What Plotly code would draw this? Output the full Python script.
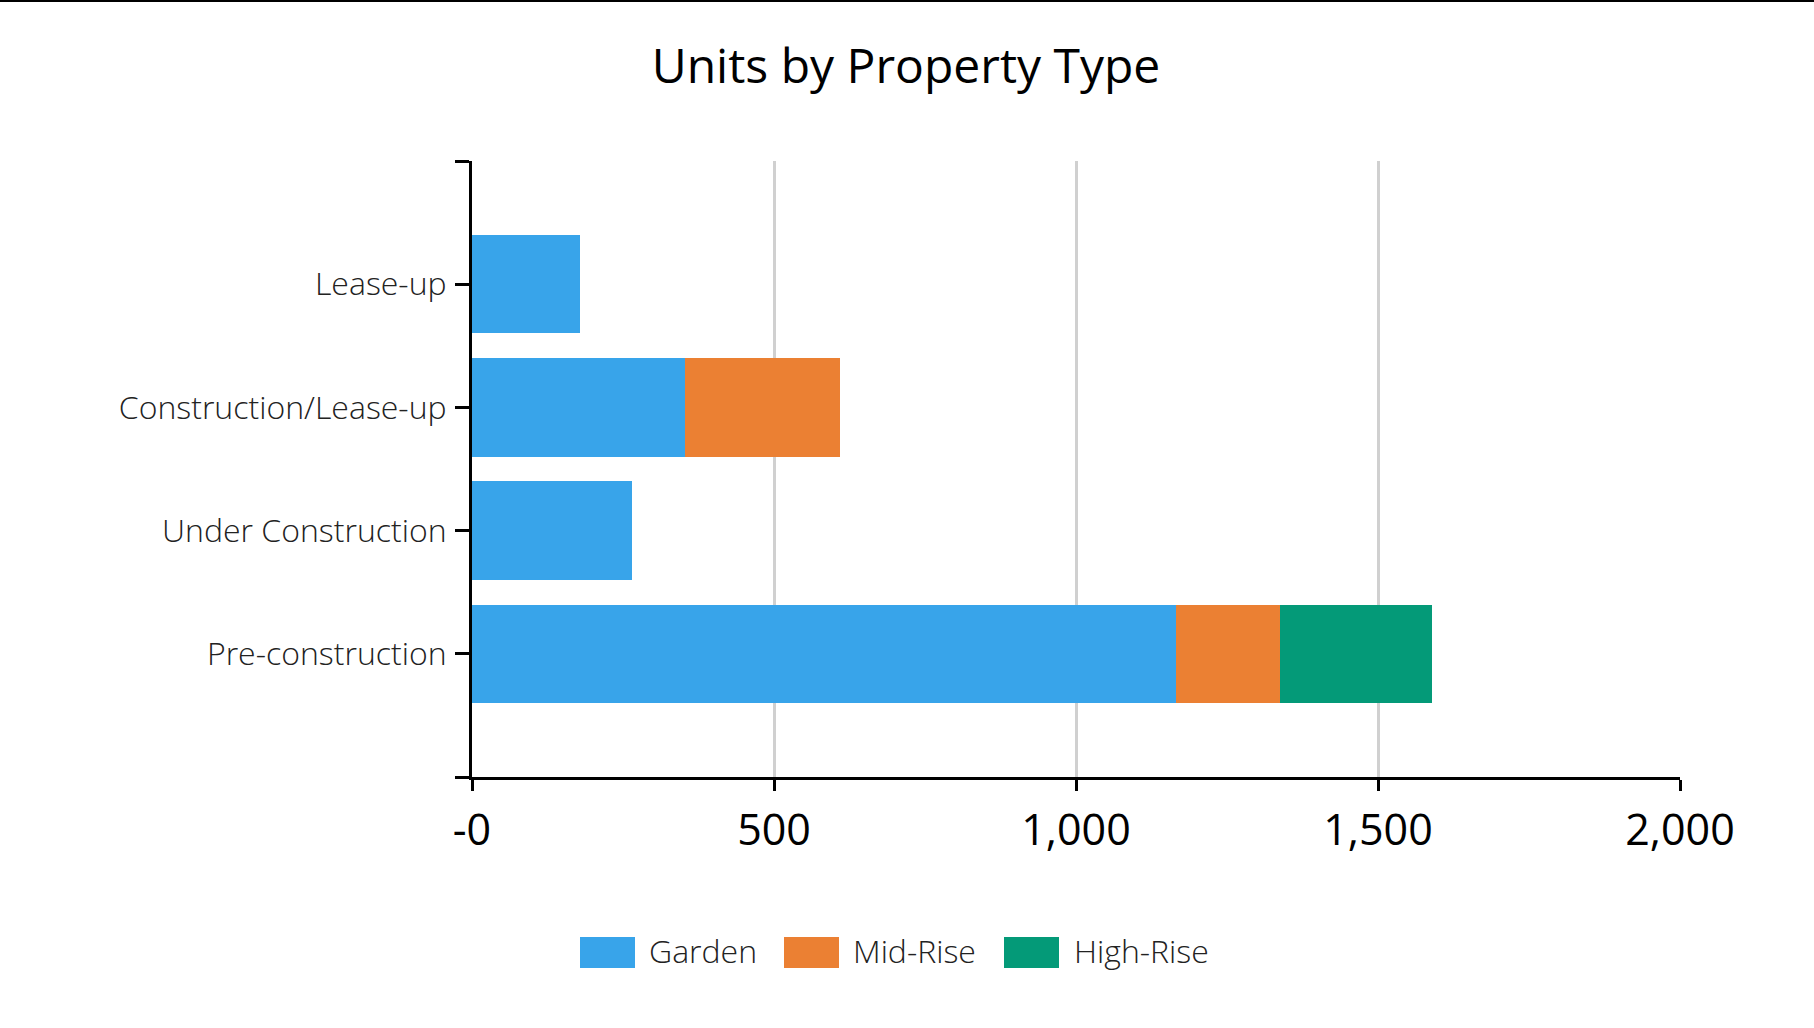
import plotly.graph_objects as go

# ---- data ----
categories = ["Lease-up", "Construction/Lease-up", "Under Construction", "Pre-construction"]
series_names = ["Garden", "Mid-Rise", "High-Rise"]
garden = [178, 352, 265, 1165]
mid_rise = [0, 257, 0, 173]
high_rise = [0, 0, 0, 251]
x_tickvals = [0, 500, 1000, 1500, 2000]
x_ticktext = ["-0", "500", "1,000", "1,500", "2,000"]

colors = ["#38A4EA", "#EB8033", "#049A78"]
series_values = [garden, mid_rise, high_rise]

# numeric positions: first category at top
n = len(categories)
ypos = [n - 1 - i for i in range(n)]

W, H = 1814, 1028
L, R, T, B = 472, 134, 161, 251
PW, PH = W - L - R, H - T - B

def px_x(px):
    return (px - L) / PW

def px_y(py):
    return (H - B - py) / PH

fig = go.Figure()
for name, vals, col in zip(series_names, series_values, colors):
    fig.add_trace(go.Bar(
        y=ypos, x=vals, name=name, orientation="h",
        marker=dict(color=col, line=dict(width=0)),
        width=0.8, showlegend=False,
    ))

fig.update_layout(
    barmode="stack",
    width=W, height=H,
    margin=dict(l=L, r=R, t=T, b=B, pad=0),
    paper_bgcolor="white", plot_bgcolor="white",
    font=dict(family="Open Sans", color="#111"),
    title=dict(text="Units by Property Type", x=906 / W, xref="container",
               y=1 - 66 / H, yref="container", xanchor="center", yanchor="middle",
               font=dict(family="Open Sans", size=48, color="#000")),
)

fig.update_xaxes(
    range=[0, 2000], tickvals=x_tickvals, ticktext=x_ticktext,
    showline=True, linecolor="#000", linewidth=3,
    ticks="outside", ticklen=11, tickwidth=3, tickcolor="#000",
    showgrid=True, gridcolor="#D0D0D0", gridwidth=3,
    zeroline=False,
    tickfont=dict(family="Open Sans", size=43, color="#000"),
    ticklabelstandoff=2,
)
fig.update_yaxes(
    range=[-1, n], tickvals=[-1] + ypos + [n],
    ticktext=[""] + categories + [""],
    showline=True, linecolor="#000", linewidth=3,
    ticks="outside", ticklen=14, tickwidth=3, tickcolor="#000",
    showgrid=False, zeroline=False,
    tickfont=dict(family="Open Sans", size=32, color="#222", weight=300),
    ticklabelstandoff=2,
)

# top border line of the page
fig.add_shape(type="line", xref="paper", yref="paper",
              x0=px_x(0), x1=px_x(W), y0=px_y(1), y1=px_y(1),
              line=dict(color="#000", width=2))

# manual legend (large swatches)
sw_x = [580, 784, 1004]
tx_x = [647, 851, 1072]
for name, col, sx, tx in zip(series_names, colors, sw_x, tx_x):
    fig.add_shape(type="rect", xref="paper", yref="paper",
                  x0=px_x(sx), x1=px_x(sx + 55), y0=px_y(968), y1=px_y(937),
                  fillcolor=col, line=dict(width=0))
    fig.add_annotation(x=px_x(tx), y=px_y(950), xref="paper", yref="paper",
                       text=name, showarrow=False, xanchor="left", yanchor="middle",
                       font=dict(family="Open Sans", size=32, color="#222", weight=300))

fig.write_html("out.html", config={"displayModeBar": False},
               post_script="document.body.style.margin='0';document.body.style.overflow='hidden';")
